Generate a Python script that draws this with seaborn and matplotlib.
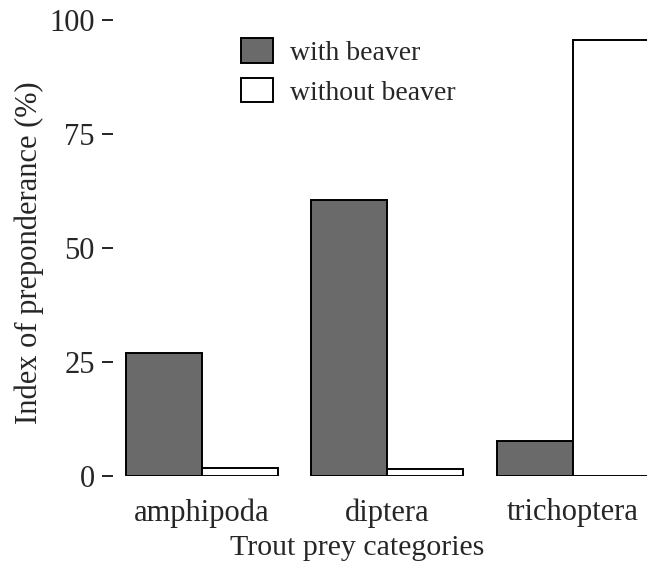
import matplotlib
matplotlib.use("Agg")
import matplotlib.pyplot as plt
import seaborn as sns
import pandas as pd

categories = ["amphipoda", "diptera", "trichoptera"]
with_beaver = [27.0, 60.6, 7.7]
without_beaver = [1.8, 1.5, 95.6]
series_names = ["with beaver", "without beaver"]
y_ticks = [0, 25, 50, 75, 100]

df = pd.DataFrame({
    "category": categories * 2,
    "value": with_beaver + without_beaver,
    "group": [series_names[0]] * 3 + [series_names[1]] * 3,
})

sns.set_style("white")
plt.rcParams["font.family"] = ["Liberation Serif", "DejaVu Serif"]

fig = plt.figure(figsize=(6.47, 5.64), dpi=100)
ax = fig.add_axes([113 / 647, 88 / 564, 1 - 113 / 647, (476 - 20) / 564])

sns.barplot(data=df, x="category", y="value", hue="group", order=categories,
            hue_order=series_names, palette=["#6a6a6a", "#ffffff"],
            width=0.82, edgecolor="black", linewidth=1.4, saturation=1,
            ax=ax, legend=True)

ax.set_xlim(-0.48, 2.40)
ax.set_ylim(0, 100)
ax.set_yticks(y_ticks)
ax.set_yticklabels([str(t) for t in y_ticks])
for s in ax.spines.values():
    s.set_visible(False)
ax.tick_params(axis="y", which="both", left=True, length=8, width=1.2,
               color="black", pad=5, labelsize=22)
ax.tick_params(axis="x", which="both", bottom=False, length=0, pad=16,
               labelsize=22)
ax.set_xlabel("Trout prey categories", fontsize=21.5)
ax.set_ylabel("Index of preponderance (%)", fontsize=22)
ax.xaxis.set_label_coords((357 - 113) / 534, -(535 - 476) / 456)
ax.yaxis.set_label_coords((44 - 113) / 534, (476 - 253) / 456)

leg = ax.legend(loc="upper left", bbox_to_anchor=((230 - 113) / 534, 0.985),
                frameon=False, fontsize=20, handlelength=1.15, handleheight=1.0,
                handletextpad=0.6, labelspacing=0.42, borderaxespad=0)
for h in leg.legend_handles:
    h.set_edgecolor("black")
    h.set_linewidth(1.4)

fig.savefig("out.png", dpi=100)
